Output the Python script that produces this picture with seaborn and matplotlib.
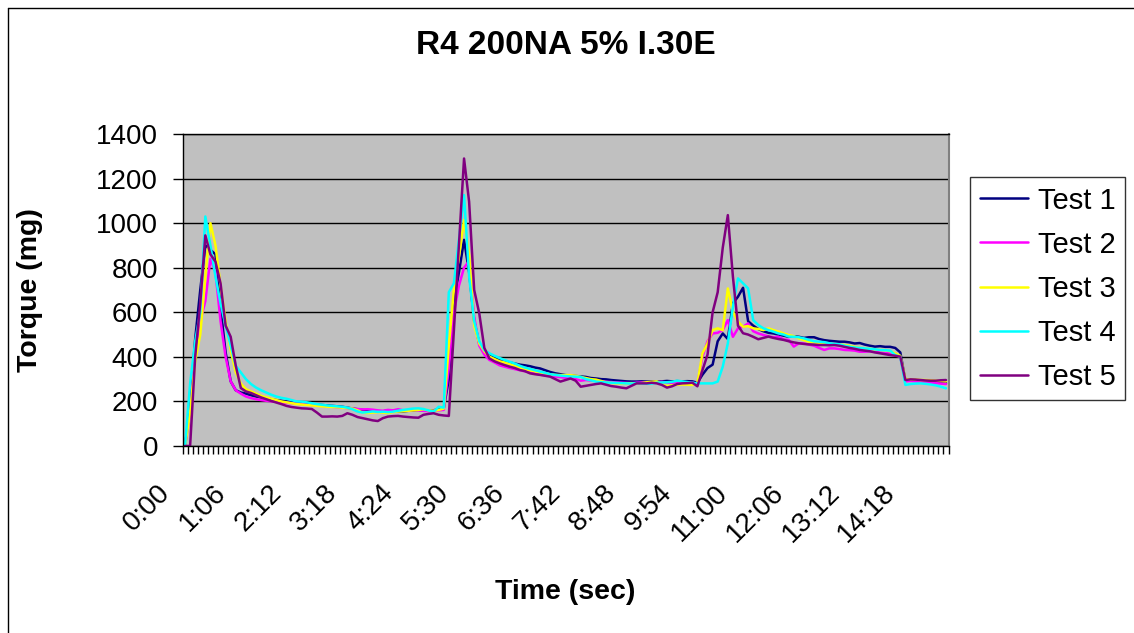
import numpy as np
import pandas as pd
import matplotlib
matplotlib.use("Agg")
import matplotlib.pyplot as plt
import matplotlib.transforms as mtransforms
from matplotlib.lines import Line2D
import seaborn as sns

# ---------------- data ----------------
title = "R4 200NA 5% I.30E"
x_title = "Time (sec)"
y_title = "Torque (mg)"
series_names = ["Test 1", "Test 2", "Test 3", "Test 4", "Test 5"]
tick_labels = ["0:00", "1:06", "2:12", "3:18", "4:24", "5:30", "6:36",
               "7:42", "8:48", "9:54", "11:00", "12:06", "13:12", "14:18"]
y_ticks = [0, 200, 400, 600, 800, 1000, 1200, 1400]

test1 = [0, 180, 480, 700, 900, 880, 860, 620, 420, 290, 250, 240,
         235, 228, 222, 218, 214, 210, 206, 203, 200, 198,
         195, 192, 190, 188, 186, 184, 182, 180, 178, 176,
         172, 168, 165, 162, 160, 158, 156, 155, 160, 158,
         156, 155, 158, 160, 162, 160, 158, 160, 165, 170,
         300, 650, 780, 925, 780, 560, 460, 430, 405, 395,
         385, 380, 375, 370, 365, 362, 358, 352, 348, 340,
         332, 326, 322, 318, 316, 314, 312, 310, 305, 303,
         300, 299, 296, 294, 292, 290, 289, 289, 290, 289,
         289, 288, 290, 292, 290, 291, 290, 291, 290, 284,
         320, 350, 365, 470, 505, 480, 640, 670, 710, 560,
         540, 525, 515, 508, 505, 500, 495, 490, 492, 490,
         485, 488, 488, 480, 475, 472, 470, 468, 468, 465,
         460, 462, 455, 450, 446, 448, 445, 445, 440, 420,
         292, 298, 296, 292, 290, 288, 286, 284, 282]

test2 = [0, 150, 420, 560, 650, 840, 780, 560, 400, 290, 250, 235,
         222, 215, 210, 206, 203, 200, 198, 196, 194, 192,
         190, 188, 186, 184, 182, 180, 178, 176, 174, 172,
         170, 168, 166, 164, 165, 163, 160, 158, 162, 160,
         165, 160, 158, 162, 160, 158, 156, 158, 160, 162,
         350, 600, 720, 800, 830, 580, 450, 410, 386, 375,
         362, 356, 350, 345, 340, 335, 330, 325, 320, 318,
         314, 311, 309, 306, 303, 300, 293, 296, 294, 292,
         290, 288, 287, 285, 284, 283, 282, 284, 285, 284,
         283, 286, 288, 285, 283, 285, 286, 284, 284, 277,
         401, 470, 505, 508, 520, 565, 490, 528, 535, 550,
         515, 505, 498, 492, 488, 490, 478, 476, 446, 461,
         460, 455, 450, 440, 431, 438, 438, 435, 431, 430,
         428, 423, 423, 425, 422, 420, 416, 416, 416, 400,
         290, 292, 290, 288, 286, 284, 282, 280, 278]

test3 = [0, 150, 380, 500, 760, 1000, 900, 720, 560, 430, 330, 280,
         255, 245, 235, 225, 218, 212, 206, 200, 196, 192,
         188, 186, 184, 182, 180, 178, 176, 175, 174, 172,
         170, 168, 160, 150, 148, 150, 152, 150, 148, 152,
         155, 156, 158, 160, 162, 165, 160, 158, 162, 168,
         450, 700, 850, 1014, 860, 540, 460, 425, 401, 390,
         380, 375, 368, 360, 352, 345, 340, 335, 330, 326,
         322, 319, 318, 318, 318, 315, 310, 305, 300, 298,
         292, 285, 283, 281, 280, 281, 282, 280, 282, 286,
         288, 290, 275, 269, 272, 275, 276, 275, 274, 281,
         416, 460, 520, 528, 520, 707, 603, 558, 535, 538,
         528, 525, 520, 528, 520, 513, 505, 498, 493, 483,
         475, 468, 465, 461, 460, 458, 456, 455, 453, 450,
         445, 440, 438, 436, 433, 431, 430, 425, 416, 405,
         300, 299, 298, 296, 296, 295, 293, 292, 290]

test4 = [0, 280, 470, 600, 1030, 900, 760, 640, 540, 450, 360, 330,
         300, 278, 262, 250, 240, 230, 222, 216, 212, 206,
         200, 199, 196, 192, 188, 185, 182, 180, 178, 176,
         172, 165, 155, 150, 152, 155, 153, 154, 152, 154,
         158, 162, 165, 168, 169, 166, 160, 154, 176, 172,
         690, 730, 930, 1126, 760, 560, 470, 430, 416, 405,
         395, 386, 378, 370, 360, 352, 346, 340, 334, 328,
         322, 319, 316, 314, 312, 311, 310, 300, 295, 289,
         287, 285, 284, 283, 282, 281, 280, 282, 281, 279,
         280, 284, 285, 286, 288, 293, 290, 287, 284, 281,
         281, 281, 281, 289, 356, 461, 625, 752, 730, 707,
         565, 543, 528, 520, 513, 505, 500, 491, 490, 488,
         483, 476, 470, 468, 466, 461, 458, 456, 450, 446,
         442, 440, 438, 436, 434, 431, 430, 428, 408, 400,
         274, 278, 280, 281, 279, 276, 272, 266, 259]

test5 = [0, 0, 400, 640, 945, 860, 827, 730, 540, 490, 360, 260,
         245, 238, 228, 218, 210, 202, 195, 188, 180, 175,
         172, 169, 168, 166, 150, 132, 132, 133, 132, 135,
         147, 140, 130, 125, 120, 115, 112, 125, 132, 134,
         135, 132, 130, 128, 127, 140, 144, 147, 140, 137,
         135, 520, 900, 1290, 1096, 700, 595, 440, 393, 380,
         371, 363, 356, 350, 341, 336, 326, 322, 319, 315,
         311, 300, 289, 296, 303, 293, 266, 270, 274, 278,
         281, 275, 269, 266, 262, 259, 270, 281, 281, 281,
         284, 281, 274, 262, 268, 278, 281, 282, 284, 268,
         340, 410, 600, 690, 890, 1036, 760, 540, 506, 500,
         490, 479, 485, 491, 485, 480, 476, 470, 465, 461,
         458, 456, 455, 453, 453, 452, 453, 450, 445, 440,
         436, 431, 428, 425, 420, 416, 412, 408, 405, 401,
         296, 299, 298, 296, 294, 293, 293, 295, 296]

colors = ["#000080", "#FF00FF", "#FFFF00", "#00FFFF", "#800080"]

# ---------------- build long table ----------------
all_series = [test1, test2, test3, test4, test5]
n = len(test1)
frames = []
for name, vals in zip(series_names, all_series):
    frames.append(pd.DataFrame({"idx": np.arange(len(vals)),
                                "torque": vals, "test": name}))
df = pd.concat(frames, ignore_index=True)

# ---------------- figure ----------------
sns.set_theme(style="white")
plt.rcParams["font.family"] = ["Liberation Sans", "DejaVu Sans"]
plt.rcParams["text.color"] = "black"
plt.rcParams["xtick.color"] = "black"
plt.rcParams["ytick.color"] = "black"
plt.rcParams["axes.labelcolor"] = "black"

W, H = 1134, 633
fig = plt.figure(figsize=(W / 100, H / 100), dpi=100)
fig.patch.set_facecolor("white")

left_px, right_px, top_px, bot_px = 182.5, 948.5, 134, 446
ax = fig.add_axes([left_px / W, 1 - bot_px / H,
                   (right_px - left_px) / W, (bot_px - top_px) / H])
ax.set_facecolor("#C0C0C0")

palette = dict(zip(series_names, colors))
sns.lineplot(data=df, x="idx", y="torque", hue="test", palette=palette,
             hue_order=series_names, estimator=None, sort=False,
             linewidth=1.8, ax=ax, legend=False)

ax.set_xlim(-0.5, n - 0.5)
ax.set_ylim(0, 1400)
ax.set_yticks(y_ticks)
ax.set_yticklabels([str(v) for v in y_ticks])
ax.yaxis.grid(True, color="black", linewidth=1)
ax.xaxis.grid(False)
ax.set_axisbelow(True)
ax.set_xlabel("")
ax.set_ylabel("")

for side in ["left", "bottom", "top"]:
    ax.spines[side].set_color("black")
    ax.spines[side].set_linewidth(1)
ax.spines["right"].set_color("#808080")
ax.spines["right"].set_linewidth(1.5)

# x ticks: marks between categories, labels every 11th category
label_pos = np.arange(len(tick_labels)) * 11
ax.set_xticks(np.arange(-0.5, n, 1.0), minor=True)
ax.set_xticks(label_pos)
ax.set_xticklabels(tick_labels)
ax.tick_params(axis="x", which="minor", length=5.8, width=1,
               direction="out", color="black", bottom=True)
ax.tick_params(axis="x", which="major", length=0, pad=31, labelsize=20,
               labelcolor="black")
ax.tick_params(axis="y", which="major", length=7.2, width=1,
               direction="out", color="black", pad=10.5, labelsize=20,
               left=True, labelcolor="black")
offset = mtransforms.ScaledTranslation(-19 / 100, 0, fig.dpi_scale_trans)
for lbl in ax.get_xticklabels():
    lbl.set_rotation(45)
    lbl.set_horizontalalignment("right")
    lbl.set_verticalalignment("center")
    lbl.set_rotation_mode("anchor")
    lbl.set_transform(lbl.get_transform() + offset)

# titles
fig.text(566 / W, 1 - 46 / H, title, ha="center", va="center",
         fontsize=24, fontweight="bold", color="black")
fig.text(565 / W, 1 - 592 / H, x_title, ha="center", va="center",
         fontsize=20.5, fontweight="bold", color="black")
fig.text(30 / W, 1 - 290 / H, y_title, ha="center", va="center",
         rotation=90, fontsize=20.5, fontweight="bold", color="black")

# legend
handles = [Line2D([0], [0], color=c, linewidth=1.8) for c in colors]
leg = fig.legend(handles, series_names, loc="upper left",
                 bbox_to_anchor=(970 / W, 1 - 177 / H),
                 bbox_transform=fig.transFigure, fontsize=21,
                 frameon=True, fancybox=False, shadow=False,
                 handlelength=1.65, handletextpad=0.34,
                 labelspacing=0.55, borderpad=0.33, borderaxespad=0)
leg.get_frame().set_edgecolor("black")
leg.get_frame().set_linewidth(1)
leg.get_frame().set_facecolor("white")
for t in leg.get_texts():
    t.set_color("black")

# outer chart border (left and top)
fig.add_artist(Line2D([8 / W, 8 / W], [0, 1 - 8 / H], color="black",
                      linewidth=1, transform=fig.transFigure))
fig.add_artist(Line2D([8 / W, 1], [1 - 8 / H, 1 - 8 / H], color="black",
                      linewidth=1, transform=fig.transFigure))

fig.savefig("out.png", dpi=100)
